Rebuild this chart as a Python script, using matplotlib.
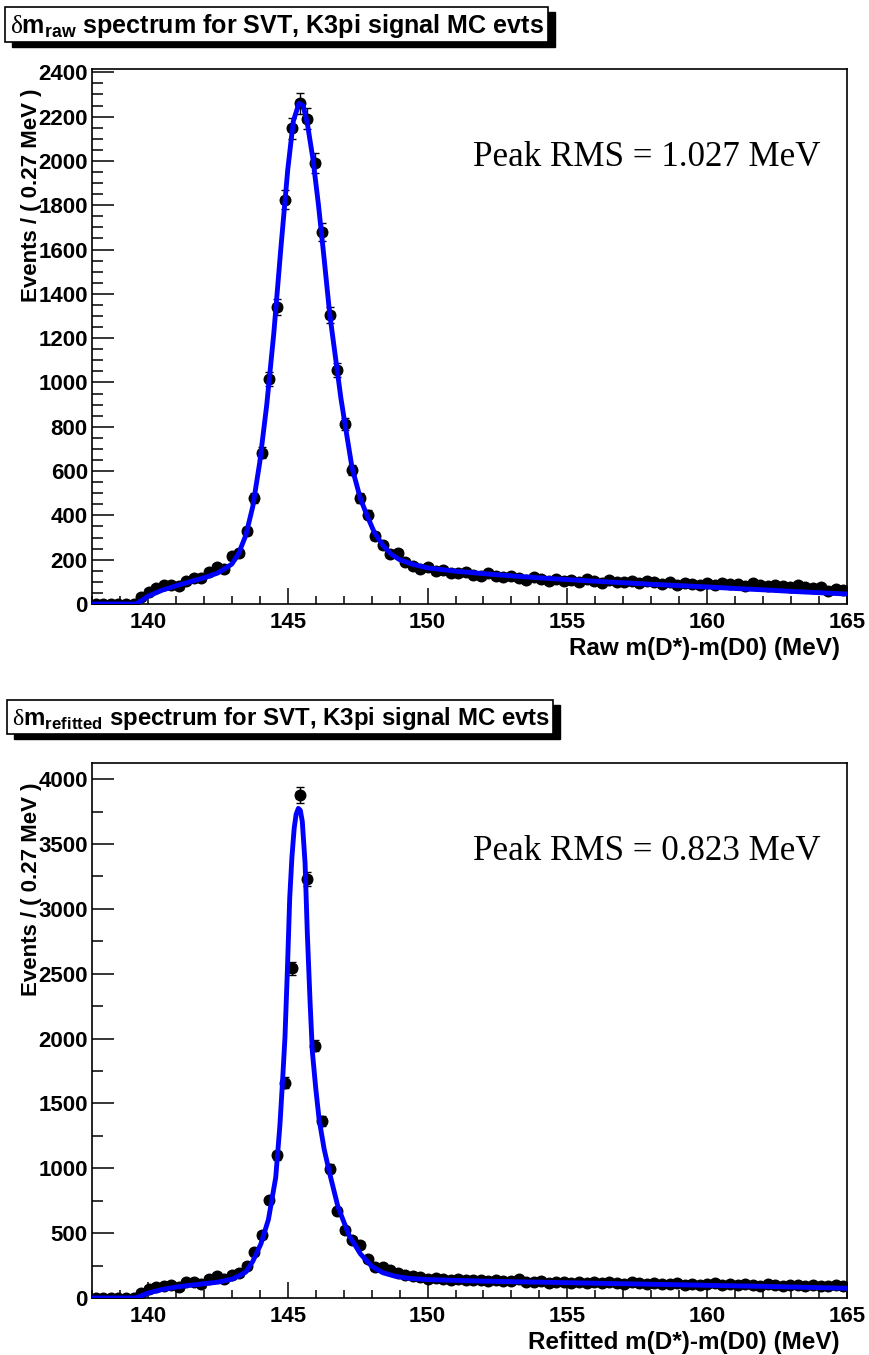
import numpy as np
import matplotlib
matplotlib.use("Agg")
import matplotlib.pyplot as plt
from matplotlib.patches import Rectangle
from matplotlib.ticker import MultipleLocator

plt.rcParams['font.family'] = ['Liberation Sans', 'DejaVu Sans']
plt.rcParams['mathtext.fontset'] = 'custom'
plt.rcParams['mathtext.rm'] = 'Liberation Sans:bold'
plt.rcParams['mathtext.sf'] = 'Liberation Serif'

# binning: 100 bins of 0.27 MeV from 138 to 165
x_lo, x_hi, n_bins = 138.0, 165.0, 100
bin_w = (x_hi - x_lo) / n_bins
bin_centers = x_lo + bin_w * (np.arange(n_bins) + 0.5)

# raw delta-m spectrum (events per bin)
raw_counts = [
    0, 0, 0, 0, 0, 0,
    30, 55, 72, 85, 85, 82, 104, 116, 119, 146, 165, 158, 215, 232,
    328, 477, 683, 1017, 1340, 1825, 2147, 2260, 2190, 1991,
    1678, 1303, 1056, 813, 605, 480, 403, 308,
    265, 226, 228, 188, 172, 160, 168, 150, 152, 142,
    140, 146, 130, 128, 138, 125, 120, 127, 116, 110,
    121, 112, 106, 115, 104, 108, 100, 112, 103, 96,
    109, 100, 98, 104, 93, 106, 98, 92, 100, 88,
    95, 90, 86, 93, 85, 96, 92, 90, 82, 94,
    88, 79, 86, 82, 75, 85, 78, 72, 76, 60,
    66, 62,
]

# refitted delta-m spectrum
refit_counts = [
    0, 0, 0, 0, 0, 0,
    42, 68, 86, 89, 99, 86, 126, 126, 110, 143, 170, 146, 179, 196,
    246, 357, 482, 754, 1100, 1661, 2544, 3877, 3230, 1946,
    1365, 998, 673, 525, 448, 405, 304, 238,
    236, 217, 191, 178, 172, 165, 150, 158, 143, 140,
    146, 138, 135, 141, 130, 136, 128, 132, 148, 126,
    122, 130, 118, 127, 121, 115, 124, 118, 125, 112,
    120, 116, 110, 121, 114, 108, 117, 111, 106, 113,
    104, 110, 102, 108, 114, 100, 106, 98, 110, 103,
    96, 105, 100, 94, 103, 97, 92, 99, 94, 90,
    98, 95,
]

# fitted pdf curves
raw_fit_x = [138.0, 139.57, 139.8, 140.0, 140.5, 141.0, 141.5, 142.0, 142.5, 143.0,
             143.25, 143.5, 143.75, 144.0, 144.25, 144.5, 144.75, 145.0, 145.2, 145.4,
             145.55, 145.7, 145.9, 146.1, 146.3, 146.5, 146.7, 146.9, 147.05, 147.3,
             147.6, 147.85, 148.1, 148.4, 148.7, 149.0, 149.5, 150.0, 151.0,
             152.0, 153.0, 154.0, 155.0, 156.0, 157.0, 158.0, 159.0, 160.0, 161.0,
             162.0, 163.0, 164.0, 165.0]
raw_fit_y = [0, 0, 18, 35, 62, 82, 100, 118, 140, 180,
             230, 310, 440, 640, 900, 1220, 1600, 1960, 2180, 2260,
             2250, 2170, 2010, 1800, 1560, 1310, 1120, 930, 810, 615,
             475, 395, 322, 265, 225, 200, 178, 163, 148,
             137, 127, 118, 110, 103, 96, 89, 83, 77, 70,
             64, 57, 51, 45]

refit_fit_x = [138.0, 139.57, 139.8, 140.0, 140.5, 141.0, 141.5, 142.0, 142.5, 143.0,
               143.25, 143.5, 143.75, 144.04, 144.31, 144.57, 144.72, 144.81, 144.9, 144.99,
               145.07, 145.15, 145.23, 145.3, 145.38, 145.45, 145.52, 145.62, 145.7, 145.8,
               145.88, 146.0, 146.12, 146.3, 146.5, 146.8, 147.2, 147.6, 148.0, 148.4,
               148.8, 149.3, 150.0, 151.0, 152.0, 153.0, 155.0, 158.0, 160.0, 162.0, 165.0]
refit_fit_y = [0, 0, 20, 38, 65, 84, 98, 110, 122, 145,
               170, 200, 283, 417, 606, 929, 1333, 1656, 2006, 2544,
               3082, 3400, 3621, 3730, 3775, 3760, 3675, 3352, 2813, 2275,
               1900, 1620, 1380, 1150, 960, 700, 480, 340, 245, 195,
               170, 152, 142, 136, 130, 126, 118, 106, 98, 90, 75]

panels = [
    dict(counts=raw_counts, fx=raw_fit_x, fy=raw_fit_y, ymax=2415, major=200, minor=50,
         sub='raw', xlabel='Raw m(D*)-m(D0) (MeV)', rms='Peak RMS = 1.027 MeV',
         ax_top=69, ax_bot=604, box=(5, 7, 548, 42)),
    dict(counts=refit_counts, fx=refit_fit_x, fy=refit_fit_y, ymax=4125, major=500, minor=250,
         sub='refitted', xlabel='Refitted m(D*)-m(D0) (MeV)', rms='Peak RMS = 0.823 MeV',
         ax_top=763, ax_bot=1298, box=(7, 700, 553, 734)),
]

W, H = 869, 1355
fig = plt.figure(figsize=(W / 100, H / 100), dpi=100)
renderer = fig.canvas.get_renderer()
ax_l, ax_r = 92, 847

for p in panels:
    ax = fig.add_axes([ax_l / W, 1 - p['ax_bot'] / H, (ax_r - ax_l) / W,
                       (p['ax_bot'] - p['ax_top']) / H])
    y = np.array(p['counts'], dtype=float)
    ax.errorbar(bin_centers, y, yerr=np.sqrt(y), xerr=bin_w / 2, fmt='o', color='black',
                ms=7.6, elinewidth=1.0, capsize=3.2, capthick=1.0, zorder=2)
    ax.plot(p['fx'], p['fy'], color='#0000ff', lw=3.5, zorder=3)

    ax.set_xlim(x_lo, x_hi)
    ax.set_ylim(0, p['ymax'])
    ax.xaxis.set_major_locator(MultipleLocator(5))
    ax.xaxis.set_minor_locator(MultipleLocator(1))
    ax.yaxis.set_major_locator(MultipleLocator(p['major']))
    ax.yaxis.set_minor_locator(MultipleLocator(p['minor']))
    ax.tick_params(axis='x', which='major', direction='in', length=11.5, width=1.1, pad=6,
                   labelsize=16)
    ax.tick_params(axis='x', which='minor', direction='in', length=5.8, width=1.1)
    ax.tick_params(axis='y', which='major', direction='in', length=15.8, width=1.1, pad=3,
                   labelsize=16)
    ax.tick_params(axis='y', which='minor', direction='in', length=7.9, width=1.1)
    for lab in ax.get_xticklabels() + ax.get_yticklabels():
        lab.set_fontweight('bold')
    for s in ax.spines.values():
        s.set_linewidth(1.2)

    # axis titles
    fig.text(840 / W, 1 - (p['ax_bot'] + 44) / H, p['xlabel'], ha='right', va='center',
             fontsize=17.5, fontweight='bold')
    fig.text(32 / W, 1 - (p['ax_top'] + 20) / H, 'Events / ( 0.27 MeV )', rotation=90,
             ha='center', va='top', fontsize=16, fontweight='bold')

    # RMS annotation
    fig.text(473 / W, 1 - (p['ax_top'] + 89) / H, p['rms'], ha='left', va='center',
             fontsize=25.2, family='Liberation Serif')

    # title box with shadow; text size fitted to the box like a ROOT pave
    x0, y0, x1, y1 = p['box']
    fig.patches.append(Rectangle(((x0 + 7) / W, 1 - (y1 + 5) / H), (x1 - x0) / W,
                                 (y1 - y0) / H, transform=fig.transFigure,
                                 facecolor='black', edgecolor='black', zorder=1))
    fig.patches.append(Rectangle((x0 / W, 1 - y1 / H), (x1 - x0) / W, (y1 - y0) / H,
                                 transform=fig.transFigure, facecolor='white',
                                 edgecolor='black', lw=1.2, zorder=2))
    t = fig.text((x0 + 5) / W, 1 - ((y0 + y1) / 2 + 1) / H,
                 r'$\mathsf{\delta}$m$_{\mathrm{' + p['sub'] + '}}$ spectrum for SVT, K3pi signal MC evts',
                 ha='left', va='center', fontsize=18, fontweight='bold', zorder=3)
    w = t.get_window_extent(renderer).width
    t.set_fontsize(min(19.5, 18 * (x1 - x0 - 9) / w))

fig.savefig('out.png', dpi=100, facecolor='white')
